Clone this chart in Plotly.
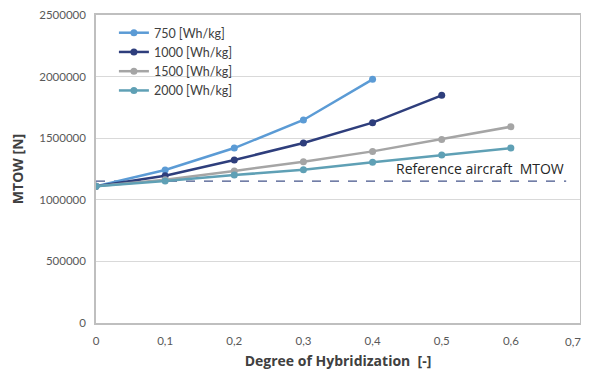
import plotly.graph_objects as go

doh = [0, 0.1, 0.2, 0.3, 0.4, 0.5, 0.6]
series_names = ["750 [Wh/kg]", "1000 [Wh/kg]", "1500 [Wh/kg]", "2000 [Wh/kg]"]
mtow_750 = [1110000, 1242000, 1420000, 1648000, 1978000]
mtow_1000 = [1110000, 1195000, 1323000, 1461000, 1626000, 1848000]
mtow_1500 = [1110000, 1162000, 1234000, 1309000, 1393000, 1490000, 1593000]
mtow_2000 = [1110000, 1152000, 1201000, 1244000, 1304000, 1364000, 1420000]
colors = ["#5B9BD5", "#2E3E7C", "#A5A5A5", "#5FA0B5"]
ref_x = [0, 0.68]
ref_mtow = [1152000, 1152000]
x_tickvals = [0, 0.1, 0.2, 0.3, 0.4, 0.5, 0.6]
x_ticktext = ["0", "0,1", "0,2", "0,3", "0,4", "0,5", "0,6"]
x_last_tick = (0.7, "0,7")

fig = go.Figure()
fig.add_trace(go.Scatter(x=ref_x, y=ref_mtow, mode="lines", showlegend=False,
                         line=dict(color="#44548A", width=1.3, dash="dash")))
for name, vals, c in zip(series_names, [mtow_750, mtow_1000, mtow_1500, mtow_2000], colors):
    fig.add_trace(go.Scatter(x=doh[:len(vals)], y=vals, name=name, mode="lines+markers",
                             line=dict(color=c, width=2.5),
                             marker=dict(color=c, size=7)))

fig.add_annotation(x=0.68, y=ref_mtow[1], xref="x", yref="y", text="Reference aircraft  MTOW",
                   showarrow=False, xanchor="right", yanchor="bottom", yshift=1,
                   font=dict(size=14, color="#262626", family="Open Sans, sans-serif"))
# last x tick label placed as annotation so it is not clipped at the page edge
fig.add_annotation(x=x_last_tick[0], y=0, xref="x", yref="paper", text=x_last_tick[1],
                   showarrow=False, xanchor="right", yanchor="top", xshift=3, yshift=-10,
                   font=dict(size=11.5, color="#595959"))

axis_common = dict(showline=True, linecolor="#BFBFBF", linewidth=1.5, mirror=True,
                   gridcolor="#D9D9D9", ticks="", zeroline=False, automargin=False,
                   tickfont=dict(size=11.5, color="#595959"))
title_font = dict(size=14, color="#404040", family="Open Sans, sans-serif")
fig.update_xaxes(range=[0, 0.7], tickvals=x_tickvals, ticktext=x_ticktext,
                 showgrid=False, ticklabelstandoff=6,
                 title=dict(text="<b>Degree of Hybridization  [-]</b>", font=title_font, standoff=14),
                 **axis_common)
fig.update_yaxes(range=[0, 2500000], dtick=500000, tickformat="d", ticklabelstandoff=6,
                 title=dict(text="<b>MTOW [N]</b>", font=title_font, standoff=17),
                 **axis_common)

fig.update_layout(
    width=581, height=362,
    margin=dict(l=88, r=9, t=7, b=47),
    paper_bgcolor="white", plot_bgcolor="white",
    font=dict(family="Lato, 'Open Sans', sans-serif", color="#595959"),
    legend=dict(x=0.037, y=0.99, xanchor="left", yanchor="top", bgcolor="rgba(0,0,0,0)",
                font=dict(size=12.5, color="#404040"), tracegroupgap=0, itemwidth=30),
)

fig.write_html("out.html")
